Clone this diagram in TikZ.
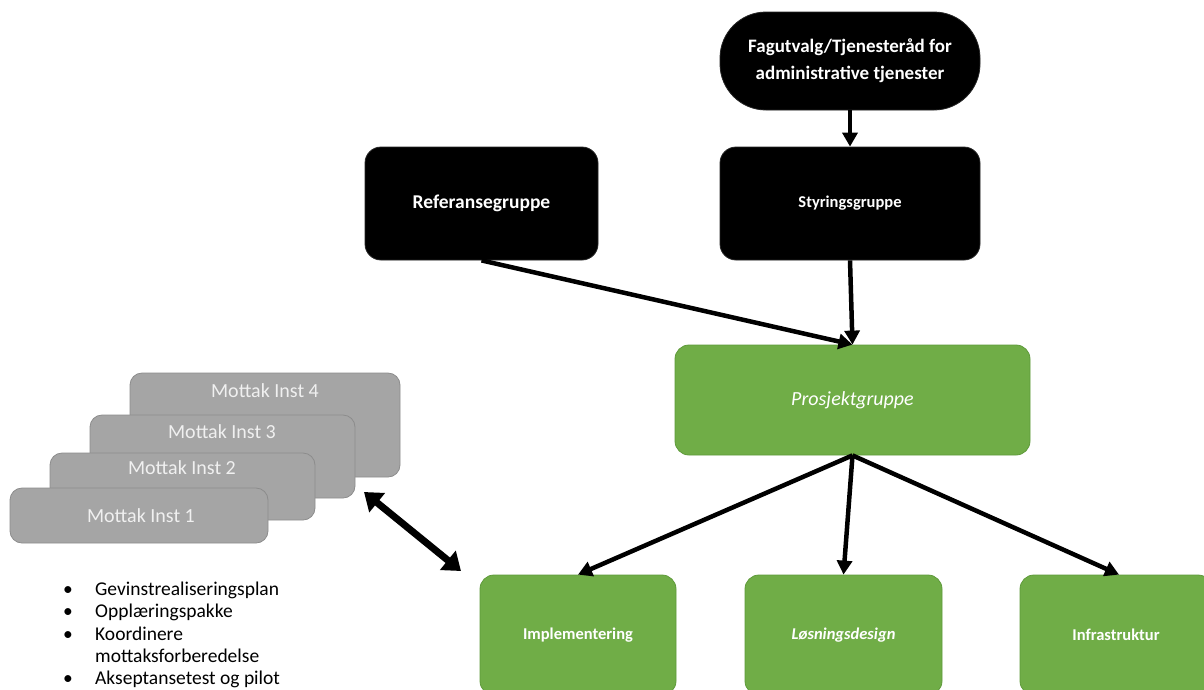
\documentclass[tikz,border=0pt]{standalone}
\usepackage{fontspec}
\setmainfont{Carlito}
\usetikzlibrary{arrows.meta}
\definecolor{grn}{HTML}{70AD47}
\definecolor{grnb}{HTML}{5E9A3A}
\definecolor{gry}{HTML}{A5A5A5}
\definecolor{gryb}{HTML}{8C8C8C}
\begin{document}
\begin{tikzpicture}[x=1pt,y=-1pt,
  blk/.style={draw=black!85,fill=black,text=white,rounded corners=16pt,line width=0.8pt,inner sep=0pt,font=\bfseries},
  gbox/.style={draw=grnb,fill=grn,text=white,rounded corners=14pt,line width=0.8pt,inner sep=0pt,font=\bfseries},
  mbox/.style={draw=gryb,fill=gry,rounded corners=12pt,line width=0.8pt,inner sep=0pt},
  mlab/.style={text=white!94!black,font=\fontsize{20}{24}\selectfont,inner sep=0pt},
  conn/.style={line width=4.5pt,-{Triangle[length=14pt,width=15pt]}},
  dconn/.style={line width=7pt,{Triangle[length=17pt,width=24pt]}-{Triangle[length=17pt,width=24pt]}}
]
\useasboundingbox (0,0) rectangle (1204,689);
\clip (0,0) rectangle (1204,689);
% top black boxes
\node[blk,rounded corners=46pt,minimum width=260pt,minimum height=98pt,align=center,
  font=\bfseries\fontsize{19}{27}\selectfont] (fag) at (850,61)
  {Fagutvalg/Tjenesteråd for\\administrative tjenester};
\node[blk,minimum width=233pt,minimum height=113pt,font=\bfseries\fontsize{19.5}{22}\selectfont] (ref) at (481.5,203.5) {Referansegruppe};
\node[blk,minimum width=260pt,minimum height=113pt,font=\bfseries\fontsize{16.5}{20}\selectfont] (sty) at (850,203.5) {Styringsgruppe};
% project group
\node[gbox,minimum width=355pt,minimum height=110pt,font=\itshape\fontsize{20}{24}\selectfont] (pro) at (852.5,400) {Prosjektgruppe};
% sub groups
\node[gbox,minimum width=196pt,minimum height=120pt,font=\bfseries\fontsize{16.5}{20}\selectfont] (imp) at (578,635) {Implementering};
\node[gbox,minimum width=197pt,minimum height=120pt,font=\bfseries\itshape\fontsize{16.5}{20}\selectfont] (los) at (843.5,635) {Løsningsdesign};
\node[gbox,minimum width=192pt,minimum height=120pt,font=\bfseries\fontsize{16.5}{20}\selectfont] (inf) at (1116,635) {Infrastruktur};
% Mottak stack
\node[mbox,minimum width=270pt,minimum height=104pt] (m4) at (265,425) {};
\node[mlab] (m4l) at (265,391) {Mottak Inst 4};
\node[mbox,minimum width=265pt,minimum height=83pt] (m3) at (222.5,456.5) {};
\node[mlab] (m3l) at (222,432) {Mottak Inst 3};
\node[mbox,minimum width=265pt,minimum height=67pt] (m2) at (182.5,486.5) {};
\node[mlab] (m2l) at (182,468) {Mottak Inst 2};
\node[mbox,minimum width=258pt,minimum height=55pt] (m1) at (139,515.5) {};
\node[mlab] (m1l) at (141,516) {Mottak Inst 1};
% bullet list
\node[anchor=north west,inner sep=0pt,align=left,font=\fontsize{19.5}{22.2}\selectfont] (lst) at (63,580)
{\begin{tabular}{@{}p{32pt}@{}l@{}}
\textbullet & Gevinstrealiseringsplan\\
\textbullet & Opplæringspakke\\
\textbullet & Koordinere\\
 & mottaksforberedelse\\
\textbullet & Akseptansetest og pilot
\end{tabular}};
% connectors
\draw[conn] (fag.south) -- (sty.north);
\draw[conn] (sty.south) -- (pro.north);
\draw[conn] (ref.south) -- (pro.north);
\draw[conn] (pro.south) -- (imp.north);
\draw[conn] (pro.south) -- (los.north);
\draw[conn] (pro.south) -- ([xshift=3pt]inf.north);
\coordinate (da1) at (364,492);
\coordinate (da2) at (461,571);
\draw[dconn] (da1) -- (da2);
\end{tikzpicture}
\end{document}
